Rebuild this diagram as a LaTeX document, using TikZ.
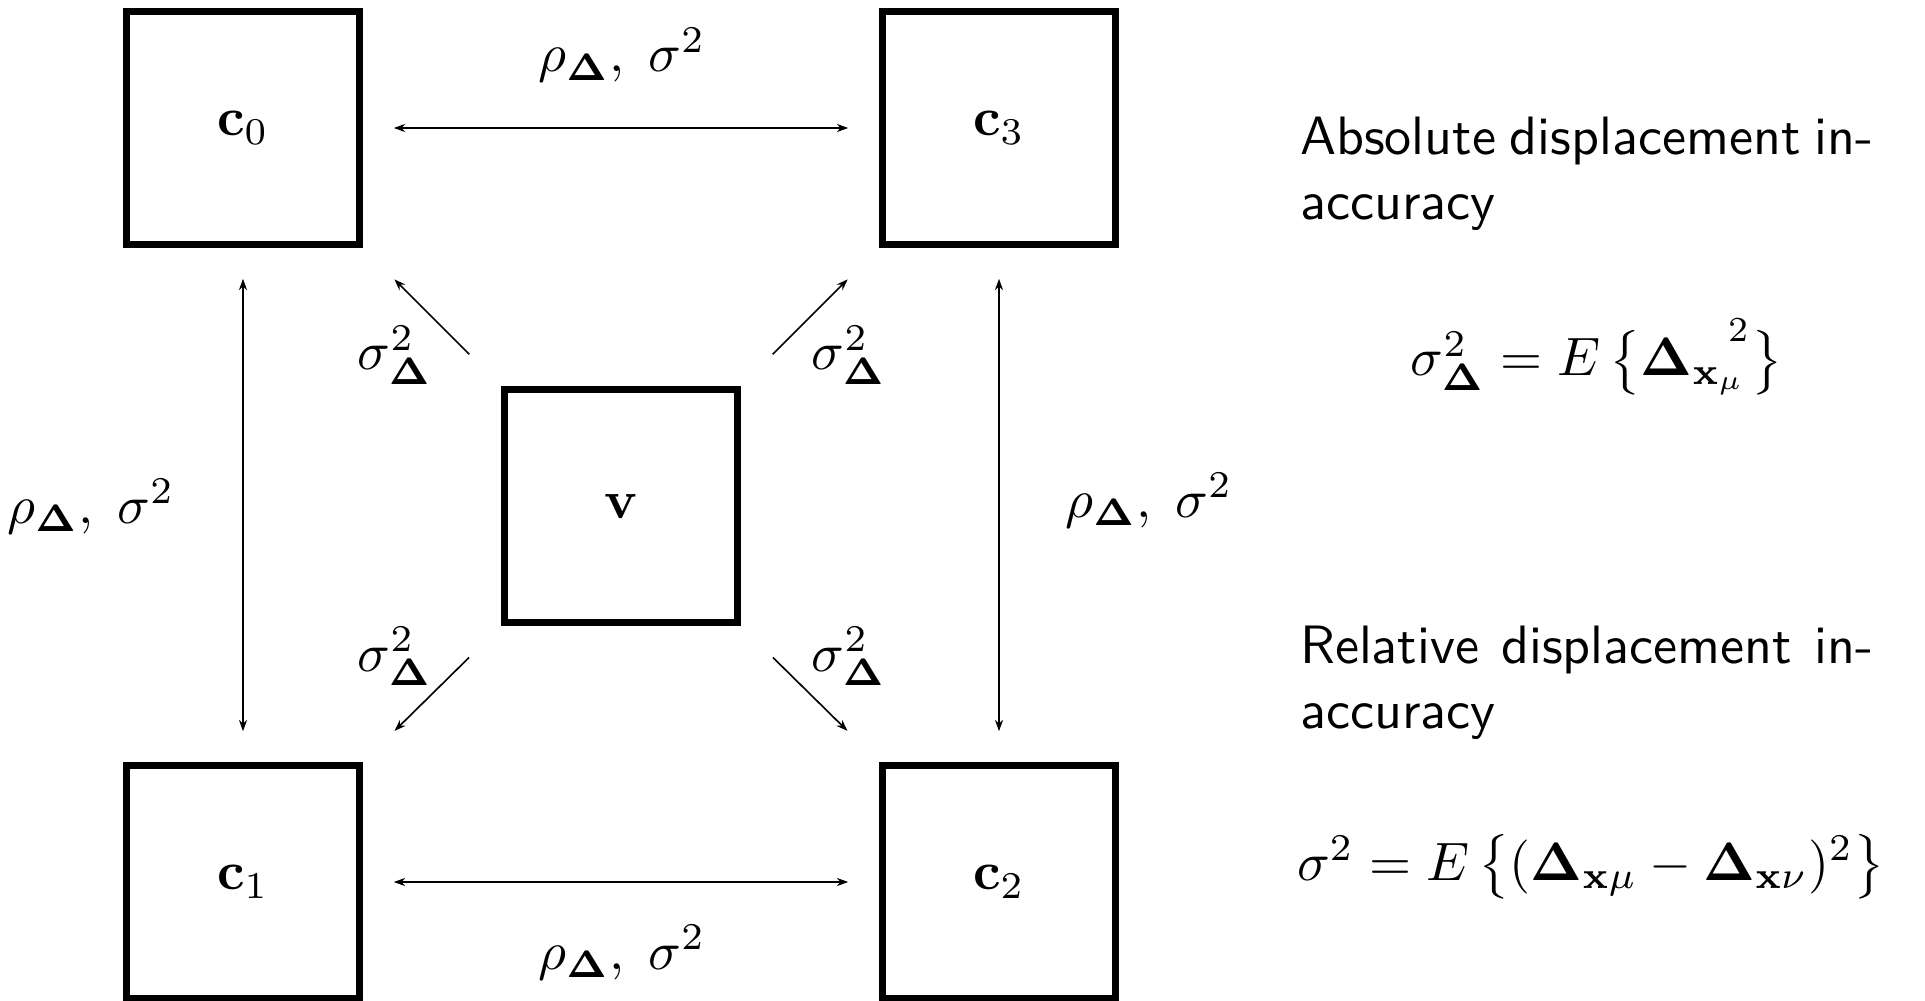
\documentclass[tikz,border=0pt]{standalone}
\usepackage{amsmath}
\usetikzlibrary{arrows.meta}
\begin{document}
\begin{tikzpicture}[x=0.185pt,y=-0.185pt,
  box/.style={draw, line width=1.3pt, minimum size=43.1pt, inner sep=0pt},
  tip/.tip={Stealth[length=2.1pt,width=1.5pt]},
  link/.style={line width=0.3pt, -tip, shorten <=8.3pt, shorten >=8.2pt},
  biarrow/.style={line width=0.3pt, tip-tip, shorten <=5.7pt, shorten >=5.7pt},
  lab/.style={anchor=base, inner sep=0pt},
  txt/.style={anchor=base west, inner sep=0pt, font=\sffamily}]
\useasboundingbox (0,0) rectangle (1925,1001);
% boxes
\node[box] (c0) at (243,128) {$\mathbf{c}_0$};
\node[box] (c3) at (999,128) {$\mathbf{c}_3$};
\node[box] (c1) at (243,882) {$\mathbf{c}_1$};
\node[box] (c2) at (999,882) {$\mathbf{c}_2$};
\node[box] (v)  at (621,506) {$\mathbf{v}$};
% side arrows
\draw[biarrow] (c0) -- (c3);
\draw[biarrow] (c1) -- (c2);
\draw[biarrow] (c0) -- (c1);
\draw[biarrow] (c3) -- (c2);
% diagonal arrows
\draw[link] (v.north west) -- (c0.south east);
\draw[link] (v.north east) -- (c3.south west);
\draw[link] (v.south west) -- (c1.north east);
\draw[link] (v.south east) -- (c2.north west);
% edge labels
\node[lab] (lt) at (622,72)  {$\rho_{\mathbf{\Delta}},\;\sigma^2$};
\node[lab] (lb) at (622,969) {$\rho_{\mathbf{\Delta}},\;\sigma^2$};
\node[lab] (ll) at (91,523)  {$\rho_{\mathbf{\Delta}},\;\sigma^2$};
\node[lab] (lr) at (1149,517) {$\rho_{\mathbf{\Delta}},\;\sigma^2$};
\node[lab] (d0) at (395,370) {$\sigma^2_{\mathbf{\Delta}}$};
\node[lab] (d3) at (849,370) {$\sigma^2_{\mathbf{\Delta}}$};
\node[lab] (d1) at (395,671) {$\sigma^2_{\mathbf{\Delta}}$};
\node[lab] (d2) at (849,671) {$\sigma^2_{\mathbf{\Delta}}$};
% right-hand text
\node[txt] (a1) at (1299,155) {\makebox[106pt][s]{Absolute displacement in-}};
\node[txt] (a2) at (1299,220) {accuracy};
\node[lab] (f1) at (1597,376) {$\sigma^2_{\mathbf{\Delta}} = E\,\bigl\{\mathbf{\Delta}_{\mathbf{x}_{\mu}}\kern-3.4pt\raisebox{6.3pt}{\fontsize{6.5pt}{6.5pt}\selectfont 2}\kern0.6pt\bigr\}$};
\node[txt] (r1) at (1299,663) {\makebox[106pt][s]{Relative displacement in-}};
\node[txt] (r2) at (1299,728) {accuracy};
\node[lab] (f2) at (1591,880) {$\sigma^2 = E\left\{(\mathbf{\Delta}_{\mathbf{x}\mu} - \mathbf{\Delta}_{\mathbf{x}\nu})^2\right\}$};
\end{tikzpicture}
\end{document}
